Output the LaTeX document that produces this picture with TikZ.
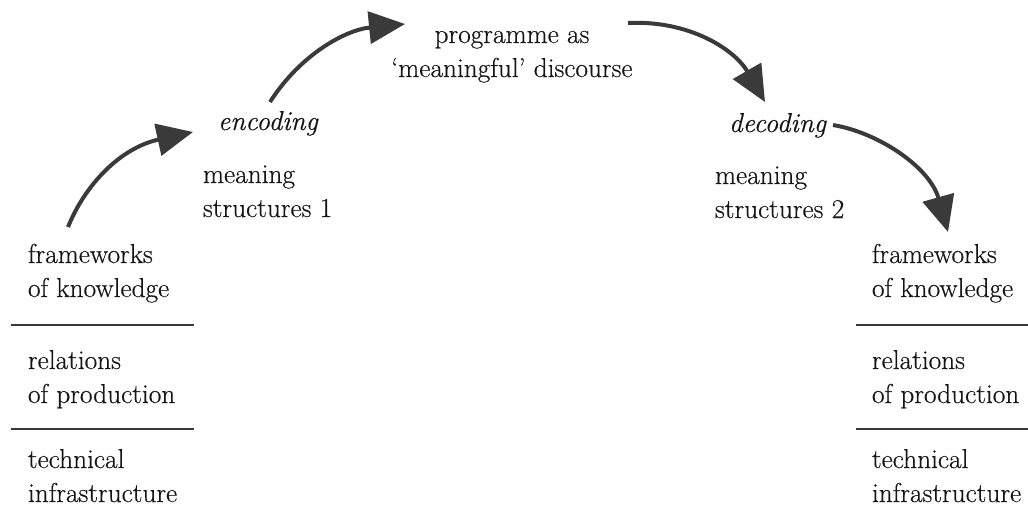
\documentclass[tikz,border=0pt]{standalone}
\usepackage{fontspec}
\setmainfont{Latin Modern Roman}[FakeBold=0.4]
\usetikzlibrary{arrows.meta}
\definecolor{ink}{HTML}{151515}
\definecolor{arr}{HTML}{3A3A3A}
\begin{document}
\begin{tikzpicture}[x=0.75pt,y=-0.75pt,
  lbl/.style={inner sep=0pt,outer sep=0pt,anchor=base west,align=left,text=ink,
     font=\fontsize{20.5}{25.5}\selectfont},
  ctr/.style={lbl,anchor=base,align=center},
  flow/.style={draw=arr,line width=3pt,
     -{Triangle[length=27pt,width=24pt]}},
  rule/.style={draw=arr,line width=1.5pt}]
\useasboundingbox (0,0) rectangle (1028,507);
% left column (anchor = baseline of last line)
\node[lbl] (fk1) at (28,297) {frameworks\\of knowledge};
\node[lbl] (rp1) at (28,403) {relations\\of production};
\node[lbl] (ti1) at (28,502) {technical\\infrastructure};
\draw[rule] (11,325) -- (194,325);
\draw[rule] (11,429) -- (194,429);
% right column
\node[lbl] (fk2) at (872,297) {frameworks\\of knowledge};
\node[lbl] (rp2) at (872,403) {relations\\of production};
\node[lbl] (ti2) at (872,502) {technical\\infrastructure};
\draw[rule] (856,325) -- (1028,325);
\draw[rule] (856,429) -- (1028,429);
% middle
\node[lbl] (enc) at (218,130) {\itshape encoding};
\node[lbl] (ms1) at (203,217) {meaning\\structures 1};
\node[ctr] (prog) at (512,77) {programme as\\‘meaningful’ discourse};
\node[lbl] (dec) at (729,132) {\itshape decoding};
\node[lbl] (ms2) at (715,218) {meaning\\structures 2};
% connector ends
\coordinate (a1s) at (68,227);
\coordinate (a1e) at (193,132);
\coordinate (a2s) at (270,102);
\coordinate (a2e) at (405,24);
\coordinate (a3s) at (628,23);
\coordinate (a3e) at (765,102);
\coordinate (a4s) at (833,125);
\coordinate (a4e) at (948,232);
\draw[flow] (a1s) .. controls (85,185) and (120,148) .. (a1e);
\draw[flow] (a2s) .. controls (300,55) and (345,30) .. (a2e);
\draw[flow] (a3s) .. controls (690,20) and (735,50) .. (a3e);
\draw[flow] (a4s) .. controls (880,133) and (930,168) .. (a4e);
\end{tikzpicture}
\end{document}
